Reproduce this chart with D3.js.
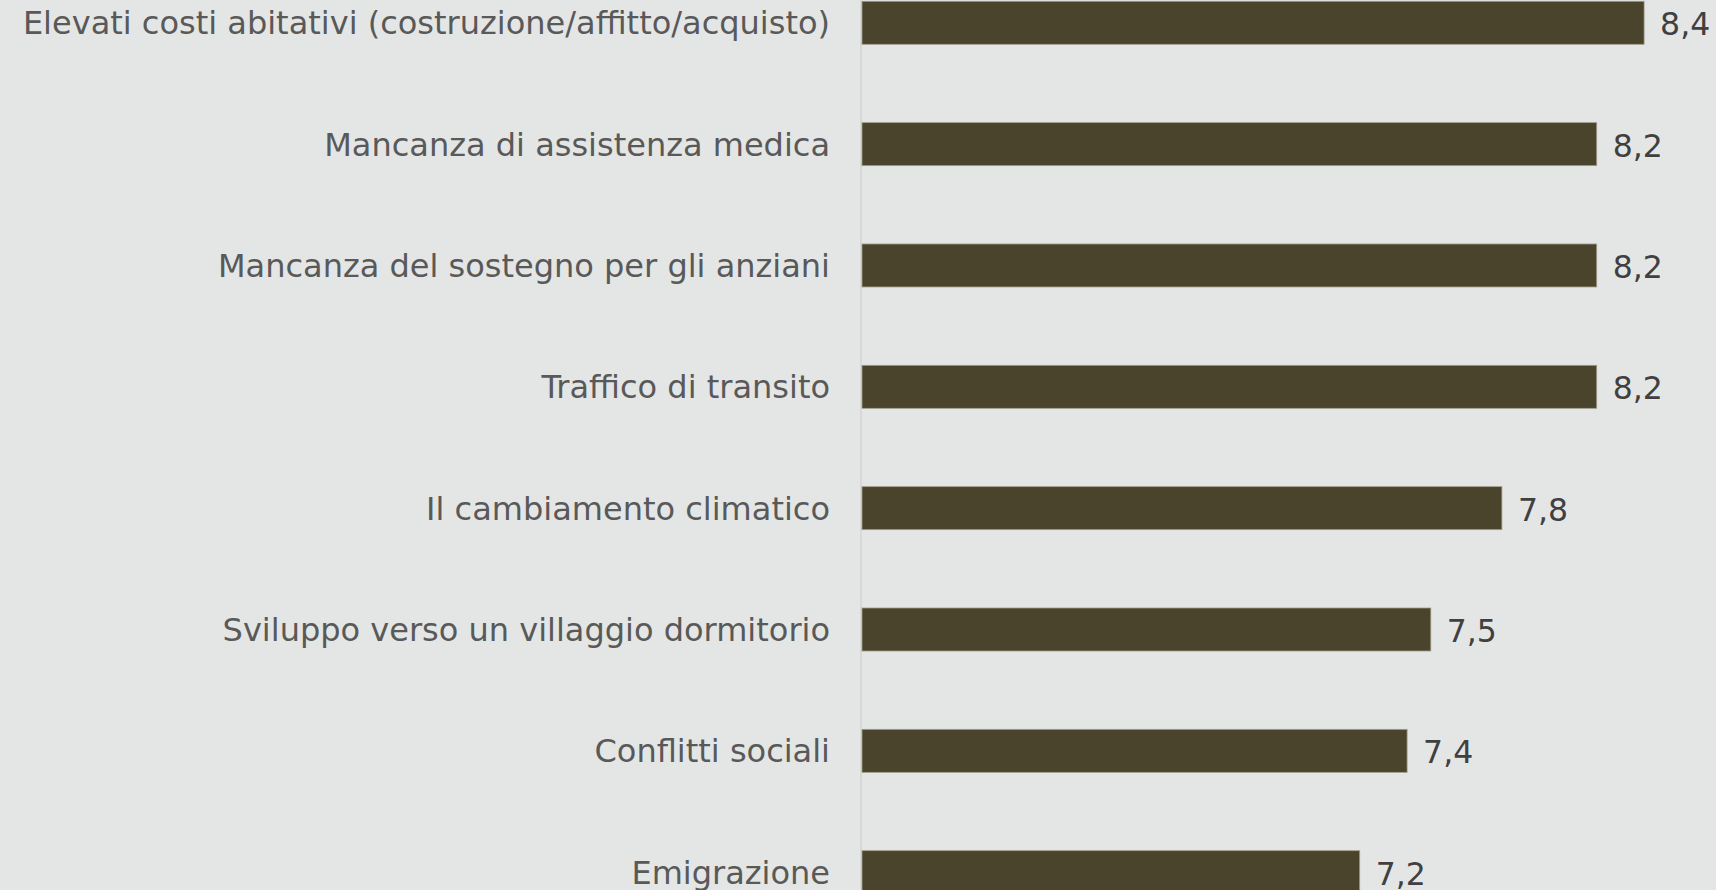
<!DOCTYPE html>
<html lang="it">
<head>
<meta charset="utf-8">
<script src="https://cdn.jsdelivr.net/npm/d3@7"></script>
<style>
  html, body { margin: 0; padding: 0; background: #e4e6e5; }
  svg { display: block; }
  text { font-family: "DejaVu Sans", Verdana, sans-serif; }
</style>
</head>
<body>
<svg id="chart" width="1716" height="890"></svg>
<script>
// Problemi percepiti, punteggio medio
const categories = [
  "Elevati costi abitativi (costruzione/affitto/acquisto)",
  "Mancanza di assistenza medica",
  "Mancanza del sostegno per gli anziani",
  "Traffico di transito",
  "Il cambiamento climatico",
  "Sviluppo verso un villaggio dormitorio",
  "Conflitti sociali",
  "Emigrazione"
];
const values = [8.4, 8.2, 8.2, 8.2, 7.8, 7.5, 7.4, 7.2];
const axisMin = 5.1;

const W = 1716, H = 890;
const plotLeft = 862;
const step = 121.34;
const pxPerUnit = 237;

const svg = d3.select("#chart");
svg.append("rect").attr("width", W).attr("height", H).attr("fill", "#e4e6e5");

const x = d3.scaleLinear()
  .domain([axisMin, 8.4])
  .range([plotLeft, plotLeft + (8.4 - axisMin) * pxPerUnit]);

const pad = 1 - 43 / step;
const yTop = 1.3 - step * pad / 2;
const y = d3.scaleBand()
  .domain(categories)
  .range([yTop, yTop + categories.length * step])
  .paddingInner(pad)
  .paddingOuter(pad / 2);

const it = d3.formatLocale({ decimal: ",", thousands: ".", grouping: [3], currency: ["", "€"] });
const fmt = it.format(".1f");

// vertical baseline of the value axis
svg.append("line")
  .attr("x1", x(axisMin) - 1).attr("x2", x(axisMin) - 1)
  .attr("y1", 0).attr("y2", H)
  .attr("stroke", "#d3d5d4").attr("stroke-width", 1.5);

const rows = svg.append("g").selectAll("g")
  .data(categories.map((c, i) => ({ c, v: values[i] })))
  .join("g");

rows.append("rect")
  .attr("x", x(axisMin))
  .attr("y", d => y(d.c))
  .attr("width", d => x(d.v) - x(axisMin))
  .attr("height", y.bandwidth())
  .attr("fill", "#4a442c")
  .attr("stroke", "#a19d88")
  .attr("stroke-width", 0.8);

// category labels
rows.append("text")
  .attr("x", plotLeft - 32)
  .attr("y", d => y(d.c) + y.bandwidth() / 2)
  .attr("dy", "0.36em")
  .attr("text-anchor", "end")
  .attr("font-size", 32)
  .attr("fill", "#595959")
  .text(d => d.c);

// value labels
rows.append("text")
  .attr("x", d => x(d.v) + 16)
  .attr("y", d => y(d.c) + y.bandwidth() / 2)
  .attr("dy", "0.40em")
  .attr("font-size", 31.5)
  .attr("fill", "#404040")
  .text(d => fmt(d.v));
</script>
</body>
</html>
